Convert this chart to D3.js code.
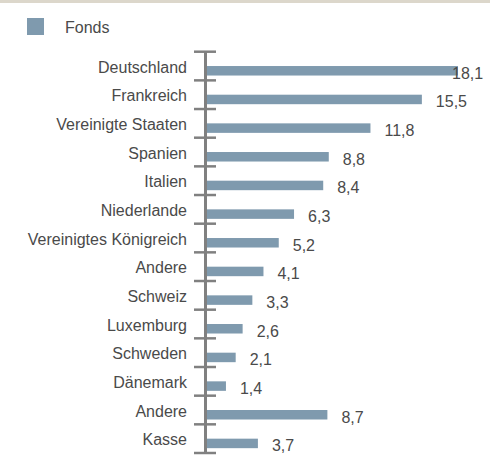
<!DOCTYPE html>
<html lang="de">
<head>
    <meta charset="UTF-8">
    <title>Fonds nach Ländern</title>
    <script src="https://d3js.org/d3.v7.min.js"></script>
    <style>
        body { margin: 0; background: #fff; }
        svg { display: block; font-family: "Liberation Sans", Arial, sans-serif; }
    </style>
</head>
<body>
    <svg id="chart" width="490" height="457"></svg>
    <script>
        const categories = ["Deutschland", "Frankreich", "Vereinigte Staaten", "Spanien", "Italien",
            "Niederlande", "Vereinigtes Königreich", "Andere", "Schweiz", "Luxemburg",
            "Schweden", "Dänemark", "Andere", "Kasse"];
        const values = [18.1, 15.5, 11.8, 8.8, 8.4, 6.3, 5.2, 4.1, 3.3, 2.6, 2.1, 1.4, 8.7, 3.7];
        const seriesName = "Fonds";

        const svg = d3.select("#chart");
        const barColor = "#7f9aae";
        const axisColor = "#808080";
        const textColor = "#4a4a4a";
        const fontSize = 16;

        // top rule
        svg.append("rect").attr("x", 0).attr("y", 0).attr("width", 490).attr("height", 3)
            .attr("fill", "#dcd7cb");

        // legend
        svg.append("rect").attr("x", 27).attr("y", 18).attr("width", 17).attr("height", 17)
            .attr("fill", barColor);
        svg.append("text").attr("x", 65).attr("y", 27).attr("dy", "0.35em")
            .attr("font-size", fontSize).attr("fill", textColor).text(seriesName);

        const idx = d3.range(categories.length);
        const y = d3.scaleBand().domain(idx).range([51.7, 453]);
        const axisX = 205.5;
        const x = d3.scaleLinear().domain([0, 18.1]).range([axisX + 1, 458]);

        // bars
        svg.selectAll("rect.bar").data(idx).enter().append("rect")
            .attr("class", "bar")
            .attr("x", x(0))
            .attr("y", i => y(i) + y.bandwidth() / 2)
            .attr("width", i => x(values[i]) - x(0))
            .attr("height", 9.5)
            .attr("fill", barColor);

        // axis line and ticks
        svg.append("line").attr("x1", axisX).attr("x2", axisX)
            .attr("y1", y.range()[0]).attr("y2", y.range()[1])
            .attr("stroke", axisColor).attr("stroke-width", 3);
        const tickYs = idx.map(i => y(i)).concat([y.range()[1]]);
        svg.selectAll("line.tick").data(tickYs).enter().append("line")
            .attr("class", "tick")
            .attr("x1", 194).attr("x2", 216)
            .attr("y1", d => d).attr("y2", d => d)
            .attr("stroke", axisColor).attr("stroke-width", 2.5);

        // category labels
        svg.selectAll("text.cat").data(idx).enter().append("text")
            .attr("class", "cat")
            .attr("x", 187)
            .attr("y", i => y(i) + y.bandwidth() / 2 + 1)
            .attr("dy", "0.35em")
            .attr("text-anchor", "end")
            .attr("font-size", fontSize)
            .attr("fill", textColor)
            .text(i => categories[i]);

        // value labels
        const fmt = v => v.toFixed(1).replace(".", ",");
        svg.selectAll("text.val").data(idx).enter().append("text")
            .attr("class", "val")
            .attr("x", i => Math.min(x(values[i]) + 14, 452))
            .attr("y", i => y(i) + y.bandwidth() / 2 + 7)
            .attr("dy", "0.35em")
            .attr("font-size", fontSize)
            .attr("fill", textColor)
            .text(i => fmt(values[i]));
    </script>
</body>
</html>
